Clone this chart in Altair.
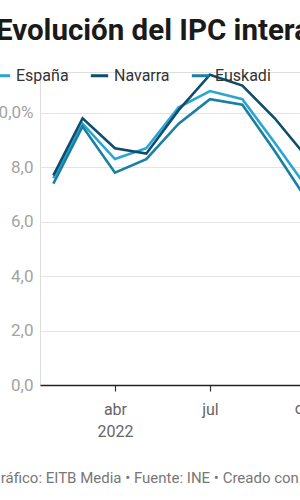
import altair as alt
import pandas as pd

months = ["2022-02-01", "2022-03-01", "2022-04-01", "2022-05-01", "2022-06-01",
          "2022-07-01", "2022-08-01", "2022-09-01", "2022-10-01"]
espana = [7.6, 9.6, 8.3, 8.7, 10.2, 10.8, 10.5, 8.9, 7.3]
navarra = [7.7, 9.8, 8.7, 8.5, 10.1, 11.4, 11.0, 9.8, 8.4]
euskadi = [7.4, 9.5, 7.8, 8.3, 9.6, 10.5, 10.3, 8.6, 6.85]

series_names = ["España", "Navarra", "Euskadi"]
series_colors = ["#2aa5d2", "#0e4d6e", "#1a80a2"]

title_text = "Evolución del IPC interanual"
footer_text = "Gráfico: EITB Media • Fuente: INE • Creado con Datawrapper"
y_ticks = [0, 2, 4, 6, 8, 10]
extra_tick_dates = ["2022-10-01"]
extra_tick_labels = ["oct"]

rows = []
for name, vals in zip(series_names, [espana, navarra, euskadi]):
    for m, v in zip(months, vals):
        rows.append({"fecha": m, "serie": name, "valor": v})
df = pd.DataFrame(rows)
df_extra = pd.DataFrame({"fecha": extra_tick_dates, "etiqueta": extra_tick_labels})

x_scale = alt.Scale(
    type="utc",
    domain=[alt.DateTime(year=2022, month=1, date=19, hours=5, utc=True),
            alt.DateTime(year=2022, month=9, date=25, hours=5, utc=True)],
)

x_ticks = [alt.DateTime(year=2022, month=m, date=1, utc=True) for m in (4, 7, 10)]

month_expr = "['ene','feb','mar','abr','may','jun','jul','ago','sep','oct','nov','dic'][utcmonth(datum.value)]"

PLOT_H = 313

lines = alt.Chart(df).mark_line(strokeWidth=2.6, clip=False).encode(
    x=alt.X(
        "fecha:T",
        scale=x_scale,
        axis=alt.Axis(
            values=x_ticks,
            labelExpr=f"utcmonth(datum.value) == 3 ? [{month_expr}, '2022'] : {month_expr}",
            grid=False,
            tickSize=6,
            tickColor="#333333",
            tickWidth=1.2,
            domainColor="#222222",
            domainWidth=1.5,
            labelFont="Roboto",
            labelFontSize=16,
            labelColor="#666666",
            labelPadding=10,
            labelLineHeight=22,
            labelFlush=False,
            labelOverlap=False,
            title=footer_text,
            titleX=-50,
            titleY=97,
            titleAlign="left",
            titleAnchor="start",
            titleBaseline="alphabetic",
            titleFont="Roboto",
            titleFontSize=15,
            titleFontWeight="normal",
            titleColor="#777777",
        ),
    ),
    y=alt.Y(
        "valor:Q",
        scale=alt.Scale(domain=[0, 11.5], nice=False),
        axis=alt.Axis(
            values=y_ticks,
            labelExpr="replace(format(datum.value, '.1f'), '.', ',') + (datum.value == 10 ? '%' : '')",
            domain=False,
            ticks=False,
            tickSize=0,
            labelPadding=7,
            gridColor="#e3e3e3",
            gridWidth=1,
            labelFont="Roboto",
            labelFontSize=17,
            labelColor="#a3a3a3",
            title=None,
        ),
    ),
    color=alt.Color(
        "serie:N",
        scale=alt.Scale(domain=series_names, range=series_colors),
        legend=alt.Legend(
            orient="none",
            legendX=-49,
            legendY=-7,
            direction="horizontal",
            title=None,
            symbolType="stroke",
            symbolStrokeWidth=3,
            symbolSize=300,
            labelFont="Roboto",
            labelFontSize=16,
            labelColor="#333333",
            labelOffset=4,
            columnPadding=15,
        ),
    ),
)

oct_label = alt.Chart(df_extra).mark_text(
    font="Roboto", fontSize=16, color="#666666", baseline="top", align="center", clip=False
).encode(
    x=alt.X("fecha:T", scale=x_scale),
    y=alt.value(PLOT_H + 16),
    text="etiqueta:N",
)

chart = alt.layer(lines, oct_label).properties(
    width=260,
    height=PLOT_H,
    title=alt.TitleParams(
        text=title_text,
        anchor="start",
        frame="group",
        font="Roboto",
        fontSize=29.5,
        fontWeight="bold",
        color="#1a1a1a",
        dx=-44,
        offset=19,
    ),
    autosize=alt.AutoSizeParams(type="none"),
    padding={"left": 40, "top": 72, "right": 0, "bottom": 115},
).configure_view(stroke=None).configure(background="white")

chart.save("out.html", embed_options={"renderer": "svg", "actions": False})
